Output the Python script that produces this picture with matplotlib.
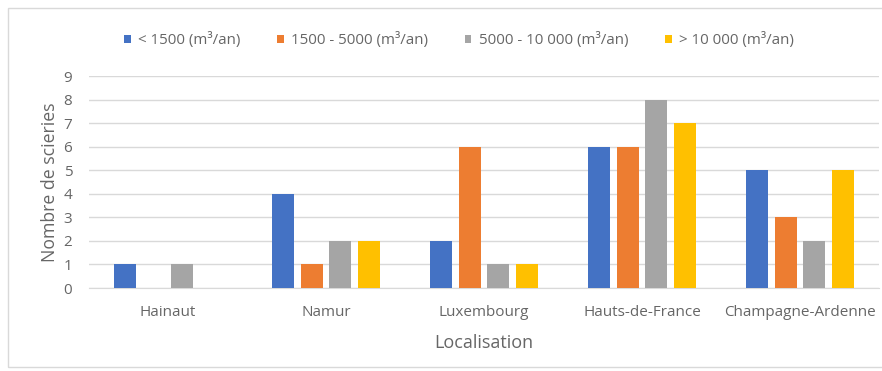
import matplotlib
matplotlib.use("Agg")
import matplotlib.pyplot as plt
import numpy as np
from matplotlib.patches import Rectangle

categories = ["Hainaut", "Namur", "Luxembourg", "Hauts-de-France", "Champagne-Ardenne"]
series_names = ["< 1500 (m³/an)", "1500 - 5000 (m³/an)", "5000 - 10 000 (m³/an)", "> 10 000 (m³/an)"]
s1 = [1, 4, 2, 6, 5]
s2 = [0, 1, 6, 6, 3]
s3 = [1, 2, 1, 8, 2]
s4 = [0, 2, 1, 7, 5]
series = [s1, s2, s3, s4]
colors = ["#4472C4", "#ED7D31", "#A5A5A5", "#FFC000"]
yticks = list(range(0, 10))

plt.rcParams['font.family'] = ['Open Sans', 'DejaVu Sans']
txt = "#666666"

fig = plt.figure(figsize=(8.82, 3.71), dpi=100)
fig.patches.append(Rectangle((8/882, 1-367/371), 1.0, (367-8)/371, transform=fig.transFigure,
                             fill=False, edgecolor="#d9d9d9", linewidth=1.0))
ax = fig.add_axes([89/882, 1-288/371, (879-89)/882, (288-76)/371])

x = np.arange(len(categories))
pitch = 0.18
width = 0.14
for i, (vals, c, name) in enumerate(zip(series, colors, series_names)):
    ax.bar(x + (i - 1.5) * pitch, vals, width=width, color=c, label=name, zorder=3)

ax.set_xlim(-0.5, len(categories) - 0.5)
ax.set_ylim(0, 9)
ax.set_yticks(yticks)
ax.set_xticks(x)
ax.set_xticklabels(categories)
ax.grid(axis="y", color="#d9d9d9", linewidth=1.0, zorder=0)
for sp in ["top", "right", "left"]:
    ax.spines[sp].set_visible(False)
ax.spines["bottom"].set_color("#d9d9d9")
ax.tick_params(axis="both", length=0, colors=txt, labelsize=11)
ax.tick_params(axis="x", pad=12)
ax.tick_params(axis="y", pad=12)
ax.set_xlabel("Localisation", color=txt, fontsize=13, labelpad=10)
ax.set_ylabel("Nombre de scieries", color=txt, fontsize=12.7, labelpad=3)

leg = fig.legend(loc="center", bbox_to_anchor=(459/882, 1-40/371), ncol=4, frameon=False,
                 fontsize=10.9, handlelength=0.45, handleheight=0.45, handletextpad=0.5,
                 columnspacing=2.4, labelcolor=txt)

fig.savefig("out.png", dpi=100, facecolor="white")
